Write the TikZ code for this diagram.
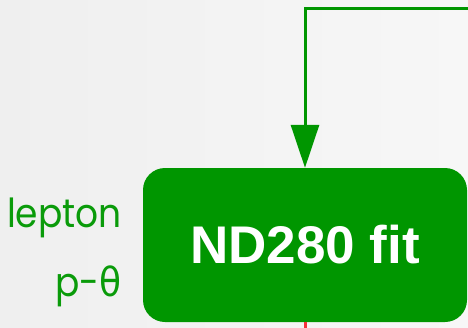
\documentclass[tikz,border=0pt]{standalone}
\usepackage{fontspec}
\setmainfont{Liberation Sans}
\newfontfamily\labelfont{Poppins}
\newfontfamily\greekfont{DejaVu Sans}
\usetikzlibrary{arrows.meta}
\definecolor{fitgreen}{RGB}{0,150,0}
\definecolor{labelgreen}{RGB}{10,155,10}
\definecolor{bgleft}{RGB}{239,239,239}
\definecolor{bgright}{RGB}{247,247,247}
\definecolor{linkred}{RGB}{245,50,60}
\tikzset{
  fitbox/.style={fill=fitgreen, draw=none, rounded corners=22pt,
    minimum width=324pt, minimum height=154pt, inner sep=0pt,
    text=white, font=\fontsize{53}{53}\selectfont\bfseries},
  feedline/.style={draw=fitgreen, line width=3pt,
    -{Triangle[length=43pt,width=28pt]}},
  sidelabel/.style={text=labelgreen, anchor=base east, inner sep=0pt,
    xscale=0.9, font=\labelfont\fontsize{40}{40}\selectfont},
  redlink/.style={draw=linkred, line width=3pt}
}
\begin{document}
\begin{tikzpicture}[x=1pt,y=-1pt]
  % page frame and background
  \useasboundingbox (0,0) rectangle (468,327);
  \clip (0,0) rectangle (468,327);
  \shade[left color=bgleft, right color=bgright] (0,0) rectangle (468,327);

  % fit block
  \node[fitbox] (fit) at (305,245) {ND280 fit};

  % side labels
  \node[sidelabel] (lep) at (122,227) {lepton};
  \node[sidelabel] (ptheta) at (122,296) {p-{\greekfont θ}};

  % feedback connector entering from the right
  \coordinate (src) at (472,8);
  \draw[feedline] (src) -| (fit.north);

  % outgoing connector below the block
  \coordinate (down) at (305,332);
  \draw[redlink] (fit.south) -- (down);
\end{tikzpicture}
\end{document}
